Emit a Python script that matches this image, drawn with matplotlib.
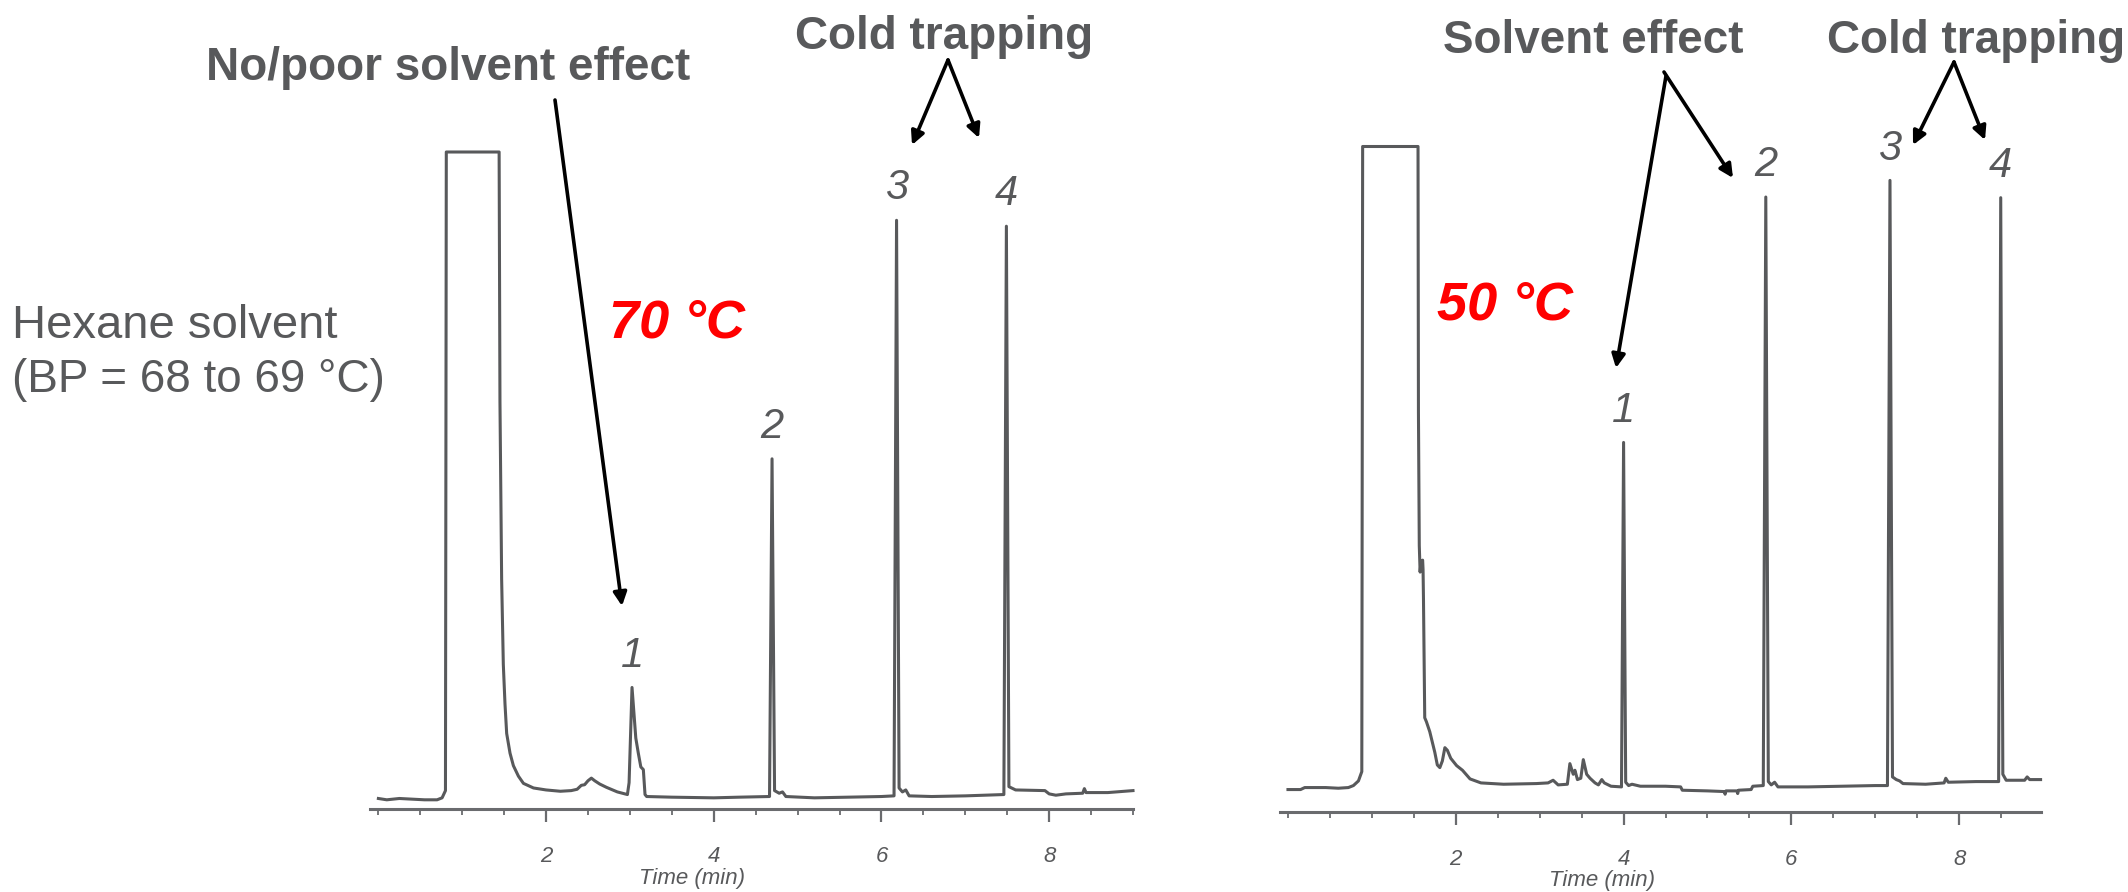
import matplotlib.pyplot as plt
from matplotlib.patches import FancyArrowPatch
from matplotlib.ticker import FixedLocator, MultipleLocator

plt.rcParams['font.family'] = ['Liberation Sans', 'DejaVu Sans']

GREY = '#58595b'
AXIS = '#6a6b6e'
RED = '#ff0000'

W, H = 2128, 892

# 70 °C oven start: time (min) and detector response (% of clipped solvent peak)
t70 = [0.00, 0.10, 0.25, 0.40, 0.55, 0.70, 0.76, 0.80, 0.81, 1.44,
       1.45, 1.47, 1.49, 1.51, 1.53, 1.57, 1.61, 1.67, 1.73, 1.85,
       2.00, 2.17, 2.30, 2.37, 2.42, 2.46, 2.50, 2.54, 2.58, 2.64,
       2.72, 2.85, 2.97, 2.99, 3.025, 3.07, 3.10, 3.13, 3.16, 3.18,
       3.20, 3.50, 4.00, 4.30, 4.665, 4.695, 4.725, 4.78, 4.82, 4.86,
       5.20, 5.60, 6.00, 6.15, 6.18, 6.21, 6.25, 6.29, 6.33, 6.60,
       7.00, 7.46, 7.49, 7.52, 7.60, 7.95, 8.00, 8.08, 8.20, 8.40,
       8.42, 8.44, 8.70, 9.00]
s70 = [1.6, 1.4, 1.6, 1.5, 1.4, 1.4, 1.7, 2.8, 100, 100,
       62, 35, 22, 16, 11.5, 8.5, 6.6, 5.0, 3.9, 3.2,
       2.9, 2.7, 2.8, 3.0, 3.6, 3.7, 4.3, 4.7, 4.3, 3.8,
       3.3, 2.6, 2.2, 4.0, 18.5, 10.8, 8.5, 6.4, 6.0, 2.2,
       1.9, 1.8, 1.7, 1.8, 1.9, 53.3, 2.8, 2.4, 2.6, 1.9,
       1.7, 1.8, 1.9, 2.0, 89.6, 3.2, 2.6, 2.9, 2.0, 1.9,
       2.0, 2.2, 88.7, 3.4, 2.9, 2.8, 2.3, 2.1, 2.3, 2.4,
       3.1, 2.5, 2.5, 2.8]

# 50 °C oven start
t50 = [0.00, 0.15, 0.20, 0.45, 0.60, 0.72, 0.78, 0.84, 0.88, 0.89,
       1.55, 1.555, 1.565, 1.575, 1.585, 1.605, 1.61, 1.615, 1.63, 1.65,
       1.69, 1.75, 1.78, 1.81, 1.84, 1.87, 1.90, 1.94, 2.01, 2.08,
       2.17, 2.30, 2.57, 2.96, 3.10, 3.16, 3.22, 3.33, 3.36, 3.40,
       3.42, 3.45, 3.49, 3.52, 3.56, 3.60, 3.66, 3.70, 3.74, 3.77,
       3.85, 3.975, 4.00, 4.025, 4.06, 4.10, 4.20, 4.50, 4.68, 4.70,
       5.00, 5.20, 5.21, 5.22, 5.35, 5.36, 5.37, 5.52, 5.54, 5.665,
       5.695, 5.725, 5.76, 5.80, 5.84, 6.20, 6.60, 7.00, 7.145, 7.175,
       7.205, 7.25, 7.29, 7.33, 7.60, 7.82, 7.84, 7.87, 8.20, 8.47,
       8.495, 8.52, 8.56, 8.78, 8.81, 8.84, 8.97]
s50 = [3.3, 3.3, 3.6, 3.6, 3.5, 3.6, 3.9, 4.6, 6.0, 100,
       100, 60, 40, 36.0, 37.6, 37.8, 36.4, 32.0, 14.1, 13.5,
       12.0, 8.9, 7.0, 6.6, 7.6, 9.6, 9.2, 8.0, 6.9, 6.2,
       4.9, 4.3, 4.1, 4.2, 4.3, 4.7, 4.0, 4.1, 7.2, 5.6,
       6.2, 4.8, 5.0, 7.8, 5.6, 5.0, 4.3, 4.0, 4.8, 4.3,
       3.8, 3.7, 55.5, 4.4, 3.9, 4.1, 3.8, 3.8, 3.7, 3.2,
       3.1, 3.0, 2.6, 3.1, 3.1, 2.7, 3.2, 3.3, 3.8, 3.9,
       92.4, 4.5, 4.0, 4.4, 3.7, 3.7, 3.8, 3.9, 3.9, 94.9,
       5.2, 4.8, 4.6, 4.2, 4.1, 4.3, 5.0, 4.4, 4.5, 4.5,
       92.3, 5.6, 4.7, 4.7, 5.2, 4.8, 4.8]

peak_names = ['1', '2', '3', '4']
rt70 = [3.025, 4.695, 6.18, 7.49]
rt50 = [4.00, 5.695, 7.175, 8.495]

time_ticks = [2, 4, 6, 8]


def fig_xy(x, y):
    # pixel position measured from the top-left corner -> figure fraction
    return x / W, 1 - y / H


def draw_run(ax, t, s, rts, xlim):
    ax.plot(t, s, color=GREY, lw=2.2, clip_on=False)
    ax.set_xlim(*xlim)
    ax.set_ylim(0, 100)
    ax.set_facecolor('none')
    for side in ['left', 'right', 'top']:
        ax.spines[side].set_visible(False)
    ax.spines['bottom'].set_color(AXIS)
    ax.spines['bottom'].set_linewidth(2.2)
    ax.yaxis.set_visible(False)

    ax.xaxis.set_major_locator(FixedLocator(time_ticks))
    ax.xaxis.set_minor_locator(MultipleLocator(0.5))
    ax.set_xticklabels([str(v) for v in time_ticks], fontstyle='italic')
    ax.tick_params(axis='x', which='major', length=9, width=1.6, color=AXIS,
                   pad=18, labelsize=16, labelcolor=GREY)
    ax.tick_params(axis='x', which='minor', length=4, width=1.3, color=AXIS)

    ax.annotate('Time (min)', xy=(3.74, 0), xycoords=('data', 'axes fraction'),
                xytext=(0, -50), textcoords='offset points', ha='center',
                va='center', fontsize=16, fontstyle='italic', color=GREY)

    # number each peak just above its apex
    for name, rt in zip(peak_names, rts):
        top = max(v for x, v in zip(t, s) if abs(x - rt) < 0.03)
        ax.annotate(name, xy=(rt, top), xytext=(0, 15), textcoords='offset points',
                    ha='center', va='baseline', fontsize=30, fontstyle='italic',
                    color=GREY)


fig = plt.figure(figsize=(W / 100, H / 100), dpi=100)

ax70 = fig.add_axes([370 / W, 83 / H, 763 / W, 657 / H])
draw_run(ax70, t70, s70, rt70, (-0.1, 9.0))

ax50 = fig.add_axes([1280 / W, 80.5 / H, 761 / W, 665 / H])
draw_run(ax50, t50, s50, rt50, (-0.095, 8.975))

# side note on the sample solvent
fig.text(*fig_xy(12, 338), 'Hexane solvent', fontsize=34, color=GREY,
         ha='left', va='baseline')
fig.text(*fig_xy(12, 392), '(BP = 68 to 69 °C)', fontsize=33, color=GREY,
         ha='left', va='baseline')

# initial oven temperatures
fig.text(*fig_xy(677, 338), '70 °C', fontsize=39, color=RED, fontweight='bold',
         fontstyle='italic', ha='center', va='baseline')
fig.text(*fig_xy(1505, 320), '50 °C', fontsize=39, color=RED, fontweight='bold',
         fontstyle='italic', ha='center', va='baseline')

# effect headings
headings = [
    ('No/poor solvent effect', 448, 80),
    ('Cold trapping', 944, 49),
    ('Solvent effect', 1593, 53),
    ('Cold trapping', 1976, 53),
]
for text, x, y in headings:
    fig.text(*fig_xy(x, y), text, fontsize=33, color=GREY, fontweight='bold',
             ha='center', va='baseline')

arrows = [
    ((555, 100), (622, 606)),
    ((948, 60), (912, 145)),
    ((948, 60), (979, 138)),
    ((1666, 76), (1616, 368)),
    ((1664, 72), (1733, 178)),
    ((1954, 62), (1913, 145)),
    ((1954, 62), (1985, 140)),
]
for start, end in arrows:
    fig.add_artist(FancyArrowPatch(fig_xy(*start), fig_xy(*end),
                                   transform=fig.transFigure, arrowstyle='-|>',
                                   mutation_scale=20, lw=2.6, color='black',
                                   shrinkA=0, shrinkB=0))

fig.savefig('out.png', dpi=100)
